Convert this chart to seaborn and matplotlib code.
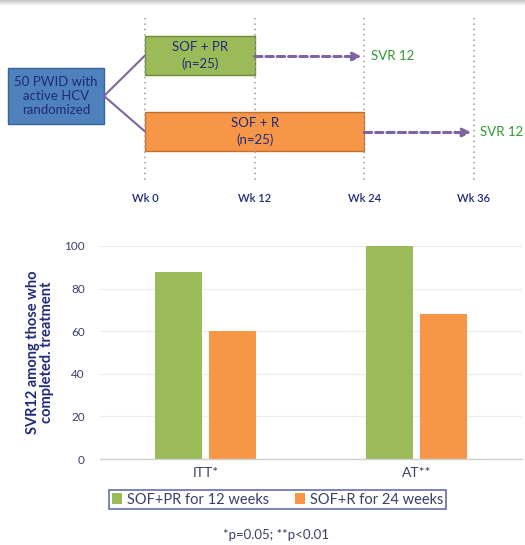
import numpy as np
import pandas as pd
import matplotlib
matplotlib.use("Agg")
import matplotlib.pyplot as plt
from matplotlib.patches import Rectangle
import seaborn as sns

# ---- data ----
groups = ["ITT*", "AT**"]
regimens = ["SOF+PR for 12 weeks", "SOF+R for 24 weeks"]
svr_sof_pr = [88, 100]
svr_sof_r = [60, 68]

arm_labels = ["SOF + PR", "SOF + R"]
arm_n = [25, 25]
arm_weeks = [12, 24]
followup_weeks = 12
week_ticks = [0, 12, 24, 36]
enrolled_text = "50 PWID with\nactive HCV\nrandomized"
outcome_text = "SVR 12"
footnote = "*p=0.05; **p<0.01"

GREEN = "#9BBB59"
ORANGE = "#F79646"
BLUE = "#4F81BD"
BLUE_EDGE = "#3A659A"
NAVY = "#1F2A7A"
TICK = "#3A3F66"
PURPLE = "#8064A2"
SVR_GREEN = "#2E9A2E"

sns.set_theme(style="white")
plt.rcParams["font.family"] = ["Lato", "DejaVu Sans"]

fig = plt.figure(figsize=(5.25, 5.45), dpi=100)

# thin grey shadow strip along the top edge
shadow = fig.add_axes([0, 1 - 6 / 545, 1, 6 / 545])
grad = np.linspace(0, 1, 20).reshape(-1, 1)
shadow.imshow(grad, aspect="auto", cmap=matplotlib.colors.LinearSegmentedColormap.from_list(
    "s", ["#C4C4C4", "#FFFFFF"]), extent=[0, 1, 0, 1], origin="upper")
shadow.axis("off")

# ---- study design schematic (x in weeks, y in layout units) ----
px_per_week = (474 - 145) / 36
dg = fig.add_axes([0, 1 - 215 / 545, 1, 215 / 545])
dg.set_xlim(-145 / px_per_week, (525 - 145) / px_per_week)
dg.set_ylim(215, 0)
dg.axis("off")

for wk in week_ticks:
    dg.plot([wk, wk], [18, 180], color="#A6A6A6", lw=1.2, ls=(0, (1, 2.2)))
    dg.text(wk, 198, f"Wk {wk}", ha="center", va="center", fontsize=8,
            color=NAVY, fontweight="semibold")

arm_y = [(36, 75), (112, 151)]
arm_colors = [GREEN, ORANGE]
arm_edges = ["#6E8B3A", "#C0712F"]
for (y0, y1), lab, n, wk, fc, ec in zip(arm_y, arm_labels, arm_n, arm_weeks, arm_colors, arm_edges):
    dg.add_patch(Rectangle((0, y0), wk, y1 - y0, facecolor=fc, edgecolor=ec, lw=1))
    yc = (y0 + y1) / 2
    dg.text(wk / 2, yc, f"{lab}\n(n={n})", ha="center", va="center",
            fontsize=9.5, color=NAVY, linespacing=1.4)
    dg.annotate("", xy=(wk + followup_weeks - 0.3, yc + 1), xytext=(wk, yc + 1),
                arrowprops=dict(arrowstyle="-|>", color=PURPLE, lw=2.2,
                                linestyle=(0, (2.4, 1.3)), mutation_scale=12,
                                shrinkA=0, shrinkB=0))
    dg.text(wk + followup_weeks + 0.7, yc + 1, outcome_text, ha="left", va="center",
            fontsize=9.5, color=SVR_GREEN)

bx0 = (8 - 145) / px_per_week
bx1 = (104 - 145) / px_per_week
dg.add_patch(Rectangle((bx0, 68), bx1 - bx0, 56, facecolor=BLUE, edgecolor=BLUE_EDGE, lw=1))
dg.text((bx0 + bx1) / 2, 96, enrolled_text, ha="center", va="center",
        fontsize=9.5, color=NAVY, linespacing=1.25)
for (y0, y1) in arm_y:
    dg.plot([bx1, 0], [96, (y0 + y1) / 2], color=PURPLE, lw=1.5)

# ---- SVR bar chart ----
df = pd.DataFrame({
    "group": groups * 2,
    "regimen": [regimens[0]] * len(groups) + [regimens[1]] * len(groups),
    "svr": svr_sof_pr + svr_sof_r,
})

ax = fig.add_axes([100 / 525, 1 - 459 / 545, 422 / 525, 213 / 545])
sns.barplot(data=df, x="group", y="svr", hue="regimen", order=groups,
            hue_order=regimens, palette=[GREEN, ORANGE], saturation=1,
            width=0.507, gap=0.12, ax=ax, edgecolor="none")
handles, labels = ax.get_legend_handles_labels()
ax.get_legend().remove()

ax.set_ylim(0, 100)
ax.set_yticks([0, 20, 40, 60, 80, 100])
ax.yaxis.grid(True, color="#EBEBEB", lw=0.9)
ax.set_axisbelow(True)
for s in ["top", "right", "left"]:
    ax.spines[s].set_visible(False)
ax.spines["bottom"].set_color("#D0D0D0")
ax.spines["bottom"].set_linewidth(1)
ax.tick_params(axis="both", length=0)
ax.tick_params(axis="y", labelsize=8.5, labelcolor=TICK, pad=11)
ax.tick_params(axis="x", labelsize=10, labelcolor=TICK, pad=6)
ax.set_xlabel("")
ax.set_ylabel("SVR12 among those who\ncompleted. treatment", fontsize=10.5,
              fontweight="bold", color=NAVY, labelpad=7, linespacing=1.05)

leg = fig.legend(handles, labels, loc="center", bbox_to_anchor=(277.5 / 525, 1 - 499.5 / 545),
                 ncol=2, frameon=True, fontsize=10.5, handlelength=0.7, handleheight=0.7,
                 handletextpad=0.3, columnspacing=1.8, borderpad=0.2, fancybox=False,
                 labelcolor=TICK)
leg.get_frame().set_edgecolor("#2B3A8C")
leg.get_frame().set_linewidth(1.1)

fig.text(276 / 525, 1 - 535 / 545, footnote, ha="center", va="center",
         fontsize=9.5, color=TICK)

fig.savefig("out.png", dpi=100, facecolor="white")
